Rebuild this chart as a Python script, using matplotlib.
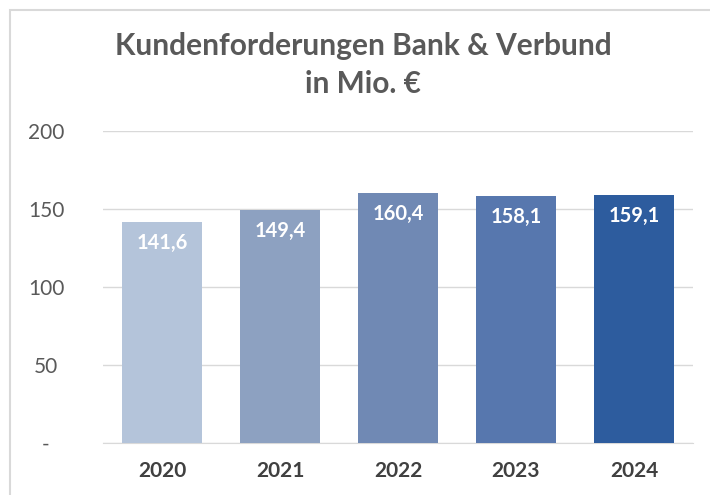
import matplotlib
matplotlib.use("Agg")
import matplotlib.pyplot as plt
from matplotlib.patches import Rectangle

years = ["2020", "2021", "2022", "2023", "2024"]
values = [141.6, 149.4, 160.4, 158.1, 159.1]
labels = ["141,6", "149,4", "160,4", "158,1", "159,1"]
colors = ["#B4C4DA", "#8DA1C1", "#7089B4", "#5777AE", "#2D5C9E"]
yticks = [0, 50, 100, 150, 200]
ytick_labels = ["-", "50", "100", "150", "200"]
title = "Kundenforderungen Bank & Verbund\nin Mio. €"

plt.rcParams['font.family'] = ['Lato', 'DejaVu Sans']

W, H = 710, 495
fig = plt.figure(figsize=(W / 100, H / 100), dpi=100)
fig.patch.set_facecolor("white")

# outer frame
fig.add_artist(Rectangle((10 / W, -0.1), 1.2, 1 - 10 / H + 0.1, transform=fig.transFigure,
                         fill=False, edgecolor="#D9D9D9", linewidth=1.5))

left, right = 103 / W, 693 / W
bottom, top = 1 - 443 / H, 1 - 131 / H
ax = fig.add_axes([left, bottom, right - left, top - bottom])

x = list(range(len(years)))
bars = ax.bar(x, values, width=0.67, color=colors, zorder=2)
for xi, v, lab in zip(x, values, labels):
    ax.text(xi, v - 7, lab, ha="center", va="top", color="white",
            fontsize=14.5, fontweight="bold", zorder=3)

ax.set_xlim(-0.5, len(years) - 0.5)
ax.set_ylim(0, 200)
ax.set_yticks(yticks)
ax.set_yticklabels(ytick_labels, fontsize=15, color="#595959")
ax.set_xticks(x)
ax.set_xticklabels(years, fontsize=15, fontweight="bold", color="#404040")
ax.tick_params(axis="both", length=0)
ax.tick_params(axis="y", pad=41)
ax.tick_params(axis="x", pad=13)
for lab in ax.get_yticklabels():
    lab.set_horizontalalignment("center")
ax.yaxis.grid(True, color="#D9D9D9", linewidth=1, zorder=0)
for s in ["top", "right", "left"]:
    ax.spines[s].set_visible(False)
ax.spines["bottom"].set_color("#D9D9D9")
ax.spines["bottom"].set_zorder(1)

fig.text(363 / W, 1 - 65 / H, title, ha="center", va="center", fontsize=21.5,
         fontweight="bold", color="#595959", linespacing=1.45)

fig.savefig("out.png", dpi=100, facecolor="white")
